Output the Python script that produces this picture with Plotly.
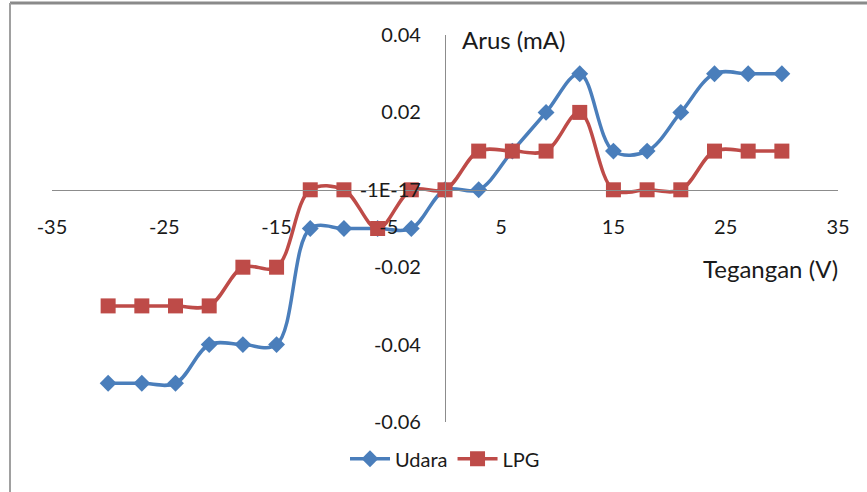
import plotly.graph_objects as go

# Data
tegangan = [-30, -27, -24, -21, -18, -15, -12, -9, -6, -3, 0, 3, 6, 9, 12, 15, 18, 21, 24, 27, 30]
udara = [-0.05, -0.05, -0.05, -0.04, -0.04, -0.04, -0.01, -0.01, -0.01, -0.01, 0.0,
         0.0, 0.01, 0.02, 0.03, 0.01, 0.01, 0.02, 0.03, 0.03, 0.03]
lpg = [-0.03, -0.03, -0.03, -0.03, -0.02, -0.02, 0.0, 0.0, -0.01, 0.0, 0.0,
       0.01, 0.01, 0.01, 0.02, 0.0, 0.0, 0.0, 0.01, 0.01, 0.01]
x_ticks = [-35, -25, -15, -5, 5, 15, 25, 35]
x_ticktext = ["-35", "-25", "-15", "-5", "5", "15", "25", "35"]
y_ticks = [0.04, 0.02, 0.0, -0.02, -0.04, -0.06]
y_ticktext = ["0.04", "0.02", "-1E-17", "-0.02", "-0.04", "-0.06"]

FONT = "Lato"
FS = 20
blue = "#4A7EBB"
red = "#BE4B48"

fig = go.Figure()
fig.add_trace(go.Scatter(
    x=tegangan, y=udara, name="Udara", mode="lines+markers",
    line=dict(color=blue, width=3.5, shape="spline", smoothing=1),
    marker=dict(symbol="diamond", size=13, color=blue),
))
fig.add_trace(go.Scatter(
    x=tegangan, y=lpg, name="LPG", mode="lines+markers",
    line=dict(color=red, width=3.5, shape="spline", smoothing=1),
    marker=dict(symbol="square", size=15, color=red),
))

L, R, T, B = 52, 29, 35, 70
W, H = 867 - L - R, 492 - T - B
fig.update_layout(
    width=867, height=492,
    margin=dict(l=L, r=R, t=T, b=B),
    paper_bgcolor="white", plot_bgcolor="white",
    font=dict(family=FONT, size=FS, color="#1a1a1a"),
    showlegend=True,
    legend=dict(orientation="h", x=0.5, xanchor="center", y=-0.095, yanchor="middle",
                font=dict(size=FS), itemwidth=40, tracegroupgap=0),
    xaxis=dict(range=[-35, 35], tickvals=x_ticks, ticktext=x_ticktext,
               showgrid=False, zeroline=False,
               showline=True, linecolor="#8c8c8c", linewidth=1.2,
               anchor="free", position=0.6, ticks="", ticklabelstandoff=19,
               tickfont=dict(size=FS)),
    yaxis=dict(range=[-0.06, 0.04], tickvals=y_ticks, ticktext=y_ticktext,
               showgrid=False, zeroline=False,
               showline=True, linecolor="#8c8c8c", linewidth=1.2,
               anchor="free", position=0.5, ticks="", ticklabelstandoff=20,
               tickfont=dict(size=FS)),
    annotations=[
        dict(text="Arus (mA)", x=(460 - L) / W, y=(492 - B - 40) / H, xref="paper", yref="paper",
             xanchor="left", yanchor="middle", showarrow=False, font=dict(size=24)),
        dict(text="Tegangan (V)", x=(840 - L) / W, y=(492 - B - 268) / H, xref="paper", yref="paper",
             xanchor="right", yanchor="middle", showarrow=False, font=dict(size=24)),
    ],
    shapes=[
        dict(type="line", xref="paper", yref="paper",
             x0=(10 - L) / W, x1=(867 - L) / W,
             y0=(492 - B - 3) / H, y1=(492 - B - 3) / H,
             line=dict(color="#8a8a8a", width=3)),
        dict(type="line", xref="paper", yref="paper",
             x0=(10 - L) / W, x1=(10 - L) / W,
             y0=(492 - B - 3) / H, y1=(492 - B - 492) / H,
             line=dict(color="#a0a0a0", width=2)),
    ],
)

fig.write_html("out.html")
